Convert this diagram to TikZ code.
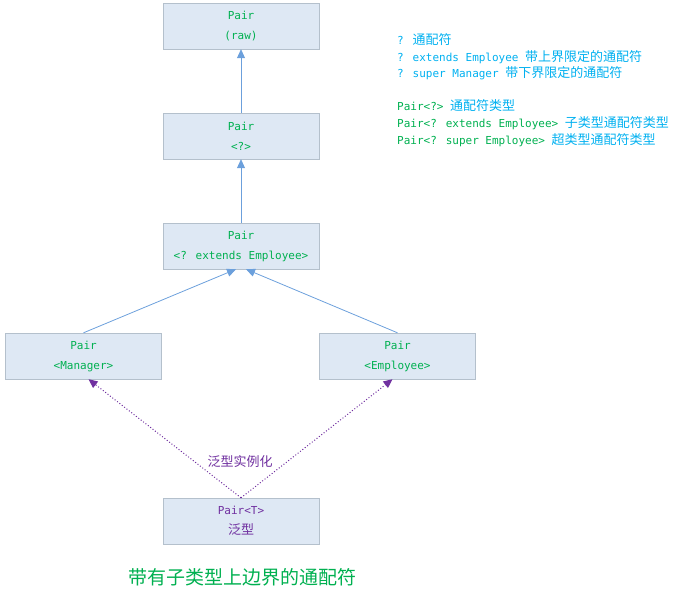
\documentclass[tikz,border=0pt]{standalone}
\usepackage{fontspec}
\setmainfont{DejaVu Sans Mono}
\newfontfamily\cjk{Noto Sans CJK SC}
\usetikzlibrary{arrows.meta}
\definecolor{boxfill}{HTML}{DEE8F4}
\definecolor{boxline}{HTML}{B4C0CC}
\definecolor{tgreen}{HTML}{00B050}
\definecolor{tcyan}{HTML}{00B0F0}
\definecolor{tpurple}{HTML}{7030A0}
\definecolor{ablue}{HTML}{6CA0DC}
\begin{document}
\begin{tikzpicture}[x=1pt,y=-1pt,
  box/.style={draw=boxline, fill=boxfill, minimum width=156pt, minimum height=46pt,
    inner sep=0pt, align=center, font=\fontsize{11}{20}\selectfont, text=tgreen},
  inh/.style={draw=ablue, line width=0.8pt, -{Triangle[length=9pt,width=8pt]}},
  inst/.style={draw=tpurple, dotted, line width=1pt, -{Triangle[length=9pt,width=8pt]}},
  note/.style={anchor=west, inner sep=0pt, font=\fontsize{11}{17}\selectfont},
  zh/.style={}
]
\useasboundingbox (0,0) rectangle (692,602);
\node[box] (raw) at (241,26) {Pair\\(raw)};
\node[box] (q) at (241,136) {Pair\\<?>};
\node[box] (ext) at (241,246) {Pair\\<? extends Employee>};
\node[box] (man) at (83.5,356) {Pair\\<Manager>};
\node[box] (emp) at (397.5,356) {Pair\\<Employee>};
\node[box, text=tpurple] (gen) at (241,521) {Pair<T>\\{\cjk\fontsize{13}{20}\selectfont 泛型}};

\draw[inh] (q) -- (raw);
\draw[inh] (ext) -- (q);
\draw[inh] (man.north) -- ([xshift=-5pt]ext.south);
\draw[inh] (emp.north) -- ([xshift=5pt]ext.south);
\draw[inst] (gen.north) -- ([xshift=5pt]man.south);
\draw[inst] (gen.north) -- ([xshift=-5pt]emp.south);
\node[text=tpurple, font=\cjk\fontsize{13}{15}\selectfont, fill=white, inner sep=1pt] (lbl) at (240,462) {泛型实例化};

\node[note, text=tcyan] (n1) at (397,40) {? {\cjk\fontsize{13}{15}\selectfont 通配符}};
\node[note, text=tcyan] (n2) at (397,57) {? extends Employee {\cjk\fontsize{13}{15}\selectfont 带上界限定的通配符}};
\node[note, text=tcyan] (n3) at (397,73) {? super Manager {\cjk\fontsize{13}{15}\selectfont 带下界限定的通配符}};
\node[note, text=tgreen] (n4) at (397,106) {Pair<?> \textcolor{tcyan}{\cjk\fontsize{13}{15}\selectfont 通配符类型}};
\node[note, text=tgreen] (n5) at (397,123) {Pair<? extends Employee> \textcolor{tcyan}{\cjk\fontsize{13}{15}\selectfont 子类型通配符类型}};
\node[note, text=tgreen] (n6) at (397,140) {Pair<? super Employee> \textcolor{tcyan}{\cjk\fontsize{13}{15}\selectfont 超类型通配符类型}};

\node[text=tgreen, font=\cjk\fontsize{19}{22}\selectfont] (cap) at (242,577) {带有子类型上边界的通配符};
\end{tikzpicture}
\end{document}
